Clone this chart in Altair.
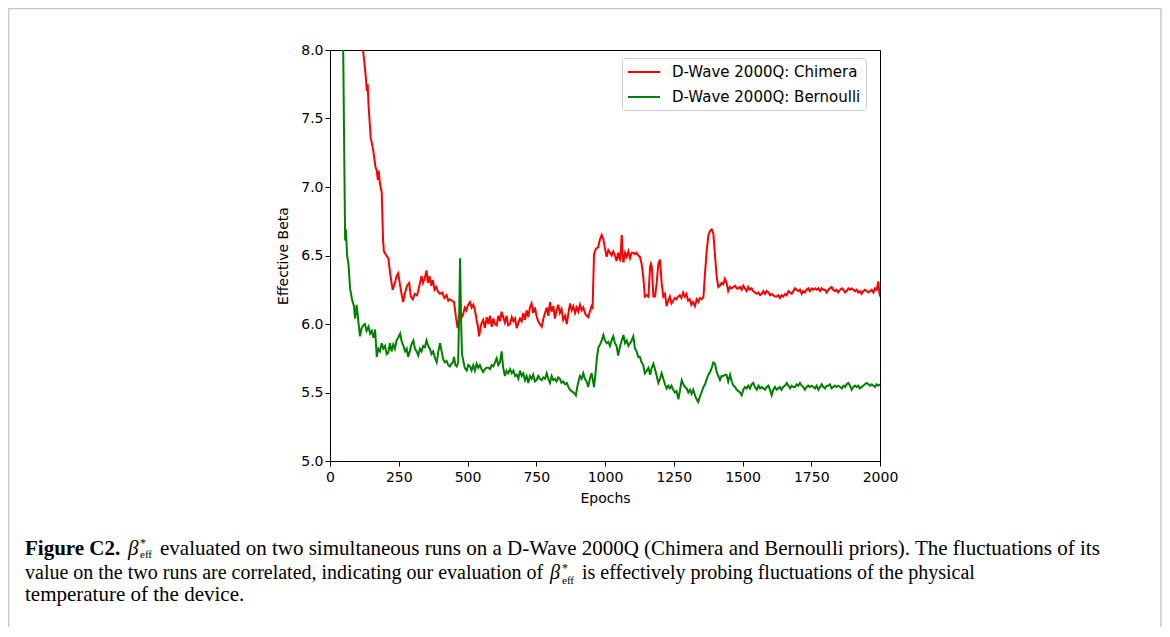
import altair as alt
import pandas as pd

series_names = ["D-Wave 2000Q: Chimera", "D-Wave 2000Q: Bernoulli"]
series_colors = ["#ff0000", "#008000"]
x_ticks = [0, 250, 500, 750, 1000, 1250, 1500, 1750, 2000]
y_ticks = [5.0, 5.5, 6.0, 6.5, 7.0, 7.5, 8.0]

chimera = [
    [100, 8.4], [120, 8.0], [128, 7.85], [131, 7.78], [134, 7.70], [137, 7.75], [140, 7.6],
    [148, 7.36], [157, 7.27], [165, 7.15], [170, 7.12], [174, 7.05], [177, 7.12], [182, 7.02],
    [188, 6.96], [193, 6.61], [196, 6.53], [205, 6.50], [212, 6.48], [220, 6.35], [228, 6.25],
    [236, 6.30], [242, 6.35], [248, 6.37], [255, 6.28], [262, 6.20], [266, 6.16], [272, 6.22],
    [280, 6.28], [288, 6.30], [294, 6.20], [301, 6.18], [308, 6.22], [317, 6.21], [325, 6.28],
    [333, 6.35], [338, 6.30], [344, 6.33], [351, 6.39], [356, 6.30], [362, 6.35], [368, 6.28],
    [374, 6.32], [380, 6.25], [386, 6.27], [392, 6.24], [400, 6.22], [408, 6.23], [416, 6.19],
    [424, 6.21], [430, 6.17], [436, 6.18], [444, 6.17], [451, 6.16], [458, 6.05], [464, 5.97],
    [470, 6.06], [477, 6.04], [484, 6.07], [490, 6.12], [496, 6.10], [502, 6.14], [509, 6.16],
    [515, 6.12], [521, 6.14], [527, 6.10], [533, 6.03], [538, 5.98], [542, 5.91], [550, 6.00],
    [557, 6.03], [563, 5.97], [570, 6.05], [576, 6.00], [582, 6.06], [588, 5.98], [594, 6.04],
    [600, 6.00], [606, 5.99], [612, 6.06], [618, 6.02], [624, 6.09], [630, 6.05], [636, 6.01],
    [642, 6.06], [648, 5.99], [655, 6.00], [661, 6.05], [667, 6.02], [673, 6.04], [679, 5.97],
    [685, 6.01], [691, 6.04], [697, 6.02], [703, 6.08], [709, 6.03], [715, 6.10], [721, 6.05],
    [727, 6.12], [733, 6.15], [739, 6.08], [745, 6.12], [751, 6.06], [757, 6.02], [763, 6.00],
    [770, 5.98], [776, 6.04], [782, 6.08], [788, 6.12], [794, 6.06], [800, 6.16], [806, 6.09],
    [812, 6.13], [818, 6.04], [824, 6.10], [830, 6.14], [836, 6.08], [842, 6.11], [848, 6.03],
    [855, 6.06], [861, 6.00], [867, 6.08], [873, 6.15], [879, 6.10], [885, 6.13], [891, 6.08],
    [897, 6.12], [903, 6.09], [909, 6.14], [915, 6.10], [921, 6.12], [927, 6.08], [933, 6.06],
    [939, 6.05], [945, 6.09], [951, 6.13], [955, 6.12], [960, 6.51], [967, 6.55], [975, 6.56],
    [982, 6.62], [988, 6.65], [994, 6.62], [1000, 6.55], [1006, 6.49], [1012, 6.54], [1018, 6.52],
    [1024, 6.50], [1030, 6.53], [1036, 6.50], [1042, 6.46], [1048, 6.52], [1052, 6.48], [1055, 6.47],
    [1058, 6.55], [1061, 6.65], [1064, 6.50], [1067, 6.45], [1073, 6.52], [1079, 6.49], [1085, 6.53],
    [1091, 6.48], [1097, 6.52], [1103, 6.52], [1109, 6.51], [1115, 6.52], [1121, 6.50], [1127, 6.49],
    [1133, 6.44], [1139, 6.35], [1145, 6.20], [1152, 6.21], [1158, 6.20], [1164, 6.42], [1167, 6.44],
    [1170, 6.42], [1176, 6.20], [1182, 6.20], [1188, 6.30], [1194, 6.44], [1200, 6.47], [1206, 6.30],
    [1212, 6.20], [1218, 6.22], [1224, 6.13], [1230, 6.17], [1236, 6.20], [1242, 6.15], [1248, 6.17],
    [1254, 6.19], [1260, 6.18], [1266, 6.20], [1272, 6.21], [1278, 6.19], [1284, 6.23], [1290, 6.20],
    [1296, 6.22], [1302, 6.17], [1308, 6.18], [1314, 6.14], [1320, 6.16], [1327, 6.13], [1333, 6.18],
    [1339, 6.16], [1345, 6.19], [1352, 6.18], [1358, 6.20], [1364, 6.38], [1370, 6.54], [1376, 6.65],
    [1382, 6.68], [1388, 6.69], [1394, 6.66], [1400, 6.50], [1406, 6.35], [1412, 6.27], [1418, 6.28],
    [1424, 6.30], [1430, 6.29], [1436, 6.33], [1442, 6.30], [1448, 6.24], [1454, 6.27], [1460, 6.26],
    [1467, 6.27], [1473, 6.28], [1479, 6.26], [1485, 6.26], [1491, 6.27], [1497, 6.25], [1503, 6.28],
    [1509, 6.26], [1515, 6.24], [1521, 6.27], [1527, 6.25], [1533, 6.26], [1539, 6.24], [1545, 6.23],
    [1552, 6.22], [1558, 6.23], [1564, 6.21], [1570, 6.22], [1576, 6.24], [1582, 6.22], [1588, 6.24],
    [1594, 6.23], [1600, 6.21], [1606, 6.22], [1612, 6.21], [1618, 6.20], [1624, 6.20], [1630, 6.21],
    [1636, 6.19], [1642, 6.21], [1648, 6.20], [1655, 6.22], [1661, 6.21], [1667, 6.24], [1673, 6.23],
    [1679, 6.22], [1685, 6.24], [1691, 6.26], [1697, 6.25], [1703, 6.24], [1709, 6.25], [1715, 6.22],
    [1721, 6.24], [1727, 6.23], [1733, 6.25], [1739, 6.26], [1745, 6.24], [1752, 6.26], [1758, 6.25],
    [1764, 6.26], [1770, 6.25], [1776, 6.26], [1782, 6.24], [1788, 6.26], [1794, 6.25], [1800, 6.25],
    [1806, 6.23], [1812, 6.25], [1818, 6.26], [1824, 6.27], [1830, 6.25], [1836, 6.24], [1842, 6.25],
    [1848, 6.23], [1855, 6.25], [1861, 6.26], [1867, 6.25], [1873, 6.23], [1879, 6.24], [1885, 6.26],
    [1891, 6.25], [1897, 6.26], [1903, 6.25], [1909, 6.24], [1915, 6.25], [1921, 6.23], [1927, 6.24],
    [1933, 6.22], [1939, 6.24], [1945, 6.25], [1952, 6.24], [1958, 6.23], [1964, 6.24], [1970, 6.25],
    [1976, 6.23], [1982, 6.26], [1988, 6.25], [1994, 6.31], [1997, 6.24], [2000, 6.20],
]

bernoulli = [
    [30, 9.0], [45, 8.2], [48, 8.0], [52, 7.2], [55, 6.61], [58, 6.69], [62, 6.5], [67, 6.44],
    [73, 6.26], [80, 6.18], [87, 6.13], [91, 6.04], [97, 6.14], [103, 6.02], [109, 5.91], [115, 5.97],
    [121, 5.99], [127, 6.00], [133, 5.95], [140, 5.98], [146, 5.93], [152, 5.95], [158, 5.90],
    [164, 5.96], [170, 5.76], [176, 5.82], [182, 5.80], [188, 5.86], [194, 5.82], [200, 5.84],
    [206, 5.78], [212, 5.79], [218, 5.86], [224, 5.80], [230, 5.85], [236, 5.82], [242, 5.88],
    [248, 5.90], [255, 5.93], [261, 5.87], [267, 5.84], [273, 5.80], [279, 5.82], [284, 5.76],
    [290, 5.80], [296, 5.85], [303, 5.88], [309, 5.82], [315, 5.80], [321, 5.77], [327, 5.82],
    [333, 5.80], [339, 5.84], [345, 5.83], [351, 5.88], [357, 5.84], [363, 5.82], [369, 5.78],
    [375, 5.80], [382, 5.75], [388, 5.72], [394, 5.80], [400, 5.86], [406, 5.80], [412, 5.74],
    [418, 5.72], [424, 5.73], [430, 5.70], [436, 5.69], [442, 5.71], [447, 5.72], [451, 5.76],
    [456, 5.70], [461, 5.69], [466, 5.72], [470, 6.10], [473, 6.48], [477, 6.00], [480, 5.78],
    [484, 5.74], [490, 5.68], [497, 5.66], [503, 5.70], [509, 5.69], [515, 5.66], [521, 5.70],
    [527, 5.66], [533, 5.71], [539, 5.68], [545, 5.70], [551, 5.67], [557, 5.65], [563, 5.67],
    [569, 5.68], [576, 5.68], [582, 5.67], [588, 5.70], [594, 5.69], [600, 5.72], [606, 5.75],
    [612, 5.70], [618, 5.72], [624, 5.80], [630, 5.68], [636, 5.62], [642, 5.66], [648, 5.64],
    [655, 5.67], [661, 5.64], [667, 5.66], [673, 5.62], [679, 5.63], [685, 5.60], [691, 5.66],
    [697, 5.62], [703, 5.64], [709, 5.59], [715, 5.62], [721, 5.57], [727, 5.62], [733, 5.60],
    [739, 5.63], [745, 5.58], [751, 5.59], [757, 5.62], [763, 5.60], [770, 5.59], [776, 5.61],
    [782, 5.60], [788, 5.64], [794, 5.60], [800, 5.57], [806, 5.62], [812, 5.59], [818, 5.60],
    [824, 5.58], [830, 5.61], [836, 5.60], [842, 5.57], [848, 5.58], [855, 5.56], [861, 5.57],
    [867, 5.54], [873, 5.52], [879, 5.51], [885, 5.50], [891, 5.49], [894, 5.48], [900, 5.55],
    [906, 5.60], [909, 5.62], [915, 5.60], [921, 5.64], [927, 5.60], [933, 5.58], [939, 5.54],
    [945, 5.60], [951, 5.64], [955, 5.60], [960, 5.54], [966, 5.65], [971, 5.76], [976, 5.83],
    [982, 5.85], [988, 5.88], [994, 5.92], [1000, 5.88], [1006, 5.86], [1012, 5.87], [1018, 5.84],
    [1024, 5.88], [1030, 5.91], [1036, 5.86], [1042, 5.84], [1048, 5.77], [1055, 5.84], [1061, 5.88],
    [1067, 5.92], [1073, 5.86], [1079, 5.88], [1085, 5.84], [1091, 5.86], [1097, 5.88], [1103, 5.91],
    [1109, 5.82], [1115, 5.80], [1121, 5.76], [1127, 5.76], [1133, 5.72], [1139, 5.70], [1145, 5.64],
    [1152, 5.66], [1158, 5.68], [1164, 5.63], [1170, 5.68], [1176, 5.71], [1182, 5.67], [1188, 5.62],
    [1194, 5.57], [1200, 5.60], [1206, 5.64], [1212, 5.60], [1218, 5.56], [1224, 5.53], [1230, 5.55],
    [1236, 5.53], [1242, 5.55], [1248, 5.52], [1254, 5.50], [1260, 5.51], [1267, 5.45], [1273, 5.52],
    [1279, 5.59], [1285, 5.56], [1291, 5.54], [1297, 5.53], [1303, 5.50], [1309, 5.52], [1315, 5.49],
    [1321, 5.52], [1327, 5.48], [1333, 5.45], [1339, 5.43], [1345, 5.47], [1351, 5.50], [1358, 5.54],
    [1364, 5.56], [1370, 5.60], [1376, 5.63], [1382, 5.65], [1388, 5.68], [1394, 5.72], [1400, 5.71],
    [1406, 5.65], [1412, 5.62], [1418, 5.59], [1424, 5.62], [1430, 5.62], [1436, 5.63], [1442, 5.63],
    [1448, 5.58], [1455, 5.63], [1461, 5.58], [1467, 5.55], [1473, 5.54], [1479, 5.52], [1485, 5.51],
    [1491, 5.50], [1497, 5.48], [1503, 5.52], [1509, 5.54], [1515, 5.53], [1521, 5.55], [1527, 5.53],
    [1533, 5.56], [1539, 5.57], [1545, 5.54], [1552, 5.52], [1558, 5.55], [1564, 5.53], [1570, 5.54],
    [1576, 5.53], [1582, 5.52], [1588, 5.54], [1594, 5.55], [1600, 5.52], [1606, 5.48], [1612, 5.52],
    [1618, 5.54], [1624, 5.52], [1630, 5.53], [1636, 5.54], [1642, 5.52], [1648, 5.54], [1655, 5.55],
    [1661, 5.57], [1667, 5.55], [1673, 5.53], [1679, 5.55], [1685, 5.54], [1691, 5.54], [1697, 5.56],
    [1703, 5.55], [1709, 5.57], [1715, 5.55], [1721, 5.54], [1727, 5.52], [1733, 5.54], [1739, 5.55],
    [1745, 5.54], [1752, 5.55], [1758, 5.54], [1764, 5.53], [1770, 5.55], [1776, 5.52], [1782, 5.54],
    [1788, 5.56], [1794, 5.54], [1800, 5.53], [1806, 5.55], [1812, 5.55], [1818, 5.56], [1824, 5.53],
    [1830, 5.54], [1836, 5.55], [1842, 5.54], [1848, 5.55], [1855, 5.54], [1861, 5.53], [1867, 5.55],
    [1873, 5.54], [1879, 5.56], [1885, 5.57], [1891, 5.55], [1897, 5.52], [1903, 5.54], [1909, 5.55],
    [1915, 5.54], [1921, 5.55], [1927, 5.53], [1933, 5.54], [1939, 5.55], [1945, 5.56], [1952, 5.57],
    [1958, 5.56], [1964, 5.55], [1970, 5.56], [1976, 5.55], [1982, 5.54], [1988, 5.56], [1994, 5.55],
    [2000, 5.56],
]

caption_line1 = "evaluated on two simultaneous runs on a D-Wave 2000Q (Chimera and Bernoulli priors). The fluctuations of its"
caption_line2a = "value on the two runs are correlated, indicating our evaluation of"
caption_line2b = "is effectively probing fluctuations of the physical"
caption_line3 = "temperature of the device."

rows = []
for name, pts in zip(series_names, [chimera, bernoulli]):
    for e, v in pts:
        rows.append({"epoch": e, "beta": v, "series": name})
df = pd.DataFrame(rows)

# plot origin on the page
OX, OY = 330, 50
W, H = 550, 411

lines = alt.Chart(df).mark_line(strokeWidth=2, clip=True).encode(
    x=alt.X("epoch:Q", title="Epochs",
            scale=alt.Scale(domain=[0, 2000], nice=False, zero=False),
            axis=alt.Axis(values=x_ticks, format="d", labelFlush=False)),
    y=alt.Y("beta:Q", title="Effective Beta",
            scale=alt.Scale(domain=[5.0, 8.0], nice=False, zero=False),
            axis=alt.Axis(values=y_ticks, format=".1f", labelFlush=False)),
    color=alt.Color("series:N", sort=series_names,
                    scale=alt.Scale(domain=series_names, range=series_colors),
                    legend=alt.Legend(title=None, orient="none", legendX=622 - OX, legendY=58 - OY,
                                      symbolType="M-1,0L3,0", symbolSize=256,
                                      symbolStrokeWidth=2, labelFontSize=15,
                                      labelFont="DejaVu Sans", labelColor="black",
                                      labelLimit=400, labelOffset=27, rowPadding=8, padding=5,
                                      strokeColor="#cccccc", fillColor="white",
                                      cornerRadius=3)),
    order="epoch:Q",
)

one = alt.Data(values=[{"k": 1}])

frame = alt.Chart(one).mark_rect(fill=None, stroke="#c8c8c8", strokeWidth=1.5).encode(
    x=alt.value(8.5 - OX), x2=alt.value(1161 - OX),
    y=alt.value(8.5 - OY), y2=alt.value(700 - OY),
)


def txt(s, x, y, size=21, weight="normal", style="normal"):
    return alt.Chart(one).mark_text(
        text=s, font="Liberation Serif", fontSize=size, fontWeight=weight,
        fontStyle=style, align="left", baseline="alphabetic", color="black",
    ).encode(x=alt.value(x - OX), y=alt.value(y - OY))


caption = [
    txt("Figure C2.", 25, 555, weight="bold"),
    txt("β", 128, 555, style="italic"),
    txt("*", 140, 547, size=12),
    txt("eff", 140, 558, size=11),
    txt(caption_line1, 160, 555),
    txt(caption_line2a, 25, 579, size=20),
    txt("β", 550, 579, size=20, style="italic"),
    txt("*", 562, 572, size=12),
    txt("eff", 562, 584, size=11),
    txt(caption_line2b, 582, 579, size=20),
    txt(caption_line3, 25, 601),
]

chart = alt.layer(frame, lines, *caption).properties(
    width=W, height=H,
    autosize=alt.AutoSizeParams(type="none"),
    padding={"left": OX - 8, "top": OY - 8, "right": 1154 - OX - W + 8, "bottom": 619 - (OY - 8) - H},
).configure_view(stroke="black", strokeWidth=1).configure_axis(
    grid=False, domainColor="black", domainWidth=1, tickColor="black", tickSize=5,
    labelFont="DejaVu Sans", labelFontSize=14, labelColor="black",
    titleFont="DejaVu Sans", titleFontSize=14, titleFontWeight="normal", titleColor="black",
).configure_axisY(titlePadding=10).configure_axisX(titlePadding=7, labelPadding=4)

chart.save("out.html", embed_options={"renderer": "svg", "actions": False})
